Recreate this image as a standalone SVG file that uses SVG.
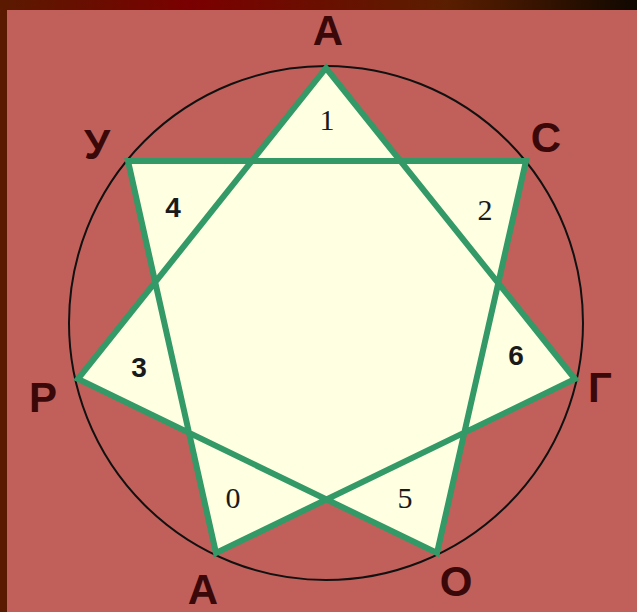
<svg xmlns="http://www.w3.org/2000/svg" width="637" height="612" viewBox="0 0 637 612">
<style>
.lbl{font-family:"Liberation Sans",Arial,sans-serif;font-weight:bold;font-size:42px;fill:#3a0808;text-anchor:middle}
.nb{font-family:"Liberation Sans",Arial,sans-serif;font-weight:bold;font-size:28px;fill:#1a1a1a;text-anchor:middle}
.ns{font-family:"Liberation Serif","Times New Roman",serif;font-size:30px;fill:#1a1a1a;text-anchor:middle}
</style>
<defs>
<linearGradient id="band" x1="0" y1="0" x2="1" y2="0">
<stop offset="0" stop-color="#5a1a00"/>
<stop offset="0.3" stop-color="#7a0000"/>
<stop offset="0.7" stop-color="#5a1e00"/>
<stop offset="1" stop-color="#100800"/>
</linearGradient>
</defs>
<rect x="0" y="0" width="637" height="612" fill="#5a1a00"/>
<rect x="0" y="0" width="637" height="10" fill="url(#band)"/>
<rect x="7" y="10" width="630" height="602" fill="#C1605A"/>
<circle cx="326" cy="323" r="257" fill="none" stroke="#111" stroke-width="2"/>
<g id="star">
<polygon points="326,68 575,379 216,553 128,161 526,161 437,553 78,379" fill="#FFFFE2" stroke="#339966" stroke-width="6" stroke-linejoin="miter" stroke-miterlimit="10"/>
</g>
<g id="connectors"></g>
<g id="v-A-top"><text class="lbl" x="328" y="45">А</text></g>
<g id="v-C"><text class="lbl" x="546" y="152">С</text></g>
<g id="v-G"><text class="lbl" x="600" y="402">Г</text></g>
<g id="v-O"><text class="lbl" x="456" y="596">О</text></g>
<g id="v-A-bottom"><text class="lbl" x="203" y="604">А</text></g>
<g id="v-R"><text class="lbl" x="43" y="412">Р</text></g>
<g id="v-U"><text class="lbl" x="97" y="159">У</text></g>
<g id="n1"><text class="ns" x="327" y="130">1</text></g>
<g id="n2"><text class="ns" x="485" y="220">2</text></g>
<g id="n4"><text class="nb" x="173" y="217">4</text></g>
<g id="n3"><text class="nb" x="139" y="377">3</text></g>
<g id="n6"><text class="nb" x="516" y="365">6</text></g>
<g id="n0"><text class="ns" x="233" y="508">0</text></g>
<g id="n5"><text class="ns" x="405" y="508">5</text></g>
</svg>
